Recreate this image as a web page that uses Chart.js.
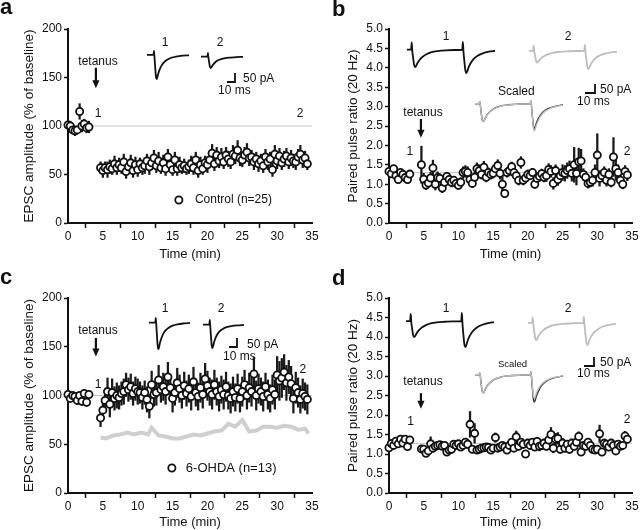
<!DOCTYPE html>
<html>
<head>
<meta charset="utf-8">
<script src="https://cdn.jsdelivr.net/npm/chart.js@4.4.0/dist/chart.umd.min.js"></script>
<style>
html,body{margin:0;padding:0;background:#fff;}
#stage{position:relative;width:640px;height:530px;overflow:hidden;font-family:"Liberation Sans",Arial,Helvetica,sans-serif;color:#111;}
#stage canvas{position:absolute;}
.lbl{position:absolute;white-space:nowrap;line-height:1;transform:translate(0,-50%);font-size:12px;}
.mid{transform:translate(-50%,-50%);}
.letter{position:absolute;font-weight:bold;font-size:22px;line-height:22px;}
</style>
</head>
<body>
<div id="stage">
  <canvas id="pa" width="320" height="265" style="left:0;top:0"></canvas>
  <canvas id="pb" width="320" height="265" style="left:320px;top:0"></canvas>
  <canvas id="pc" width="320" height="265" style="left:0;top:265px"></canvas>
  <canvas id="pd" width="320" height="265" style="left:320px;top:265px"></canvas>
  <div class="letter" style="left:0;top:-4px">a</div>
  <div class="letter" style="left:332px;top:-2px">b</div>
  <div class="letter" style="left:0;top:266px">c</div>
  <div class="letter" style="left:332px;top:267px">d</div>
</div>
<script>
// ---- time axis (min) ----
var timePre = [0, 0.33, 0.67, 1, 1.33, 1.67, 2, 2.33, 2.67, 3];
var timePost = [
  4.67, 5, 5.33, 5.67, 6, 6.33, 6.67, 7, 7.33, 7.67,
  8, 8.33, 8.67, 9, 9.33, 9.67, 10, 10.33, 10.67, 11,
  11.33, 11.67, 12, 12.33, 12.67, 13, 13.33, 13.67, 14, 14.33,
  14.67, 15, 15.33, 15.67, 16, 16.33, 16.67, 17, 17.33, 17.67,
  18, 18.33, 18.67, 19, 19.33, 19.67, 20, 20.33, 20.67, 21,
  21.33, 21.67, 22, 22.33, 22.67, 23, 23.33, 23.67, 24, 24.33,
  24.67, 25, 25.33, 25.67, 26, 26.33, 26.67, 27, 27.33, 27.67,
  28, 28.33, 28.67, 29, 29.33, 29.67, 30, 30.33, 30.67, 31,
  31.33, 31.67, 32, 32.33, 32.67, 33, 33.33, 33.67, 34, 34.33
];
var timeTicks = [0, 5, 10, 15, 20, 25, 30, 35];
var ampTicks = [0, 50, 100, 150, 200];
var ppTicks = [0, 0.5, 1, 1.5, 2, 2.5, 3, 3.5, 4, 4.5, 5];

// ---- a: EPSC amplitude, control ----
var ctrlAmpPre = [101, 100, 96, 95, 96, 115, 100, 102, 98, 99];
var ctrlAmpPreErr = [4, 5, 4, 5, 4, 8, 6, 5, 5, 6];
var ctrlAmpPost = [
  57, 54, 57, 55, 58, 56, 61, 57, 60, 57,
  63, 53, 58, 62, 54, 60, 55, 61, 57, 59,
  64, 58, 62, 67, 59, 64, 57, 62, 56, 68,
  60, 55, 65, 56, 60, 57, 59, 56, 58, 61,
  57, 65, 54, 60, 56, 62, 60, 65, 72, 61,
  70, 64, 68, 63, 70, 66, 63, 71, 69, 75,
  67, 65, 70, 73, 67, 68, 63, 66, 61, 64,
  59, 68, 63, 66, 55, 71, 64, 69, 62, 66,
  69, 63, 67, 64, 63, 68, 71, 65, 67, 61
];
var ctrlAmpPostErr = [
  6, 7, 6, 8, 7, 6, 8, 7, 7, 6,
  8, 7, 6, 8, 7, 8, 7, 6, 7, 8,
  7, 8, 7, 8, 7, 9, 6, 8, 7, 8,
  7, 6, 8, 7, 8, 6, 7, 6, 7, 8,
  7, 8, 7, 8, 6, 7, 8, 7, 9, 7,
  8, 7, 9, 7, 8, 8, 7, 9, 8, 10,
  8, 7, 8, 9, 8, 7, 8, 7, 8, 7,
  7, 8, 8, 7, 7, 9, 8, 8, 7, 8,
  8, 7, 8, 7, 8, 8, 9, 8, 7, 6
];

// ---- c: EPSC amplitude, 6-OHDA ----
var ohdaAmpPre = [101, 97, 100, 99, 95, 100, 94, 102, 93, 101];
var ohdaAmpPreErr = [3, 3, 3, 3, 4, 3, 4, 4, 4, 3];
var ohdaAmpPost = [
  77, 85, 95, 104, 91, 103, 97, 100, 98, 102,
  104, 111, 106, 109, 102, 107, 104, 103, 98, 103,
  96, 89, 111, 101, 103, 116, 106, 109, 104, 119,
  108, 97, 103, 113, 107, 100, 110, 102, 107, 99,
  114, 103, 99, 108, 101, 117, 110, 104, 101, 111,
  104, 99, 106, 101, 109, 100, 97, 104, 98, 107,
  97, 104, 111, 100, 108, 104, 122, 100, 107, 104,
  99, 109, 101, 97, 106, 101, 121, 115, 118, 124,
  113, 119, 112, 97, 108, 103, 96, 102, 99, 96
];
var ohdaAmpPostErr = [
  9, 11, 12, 14, 13, 14, 12, 13, 12, 12,
  13, 12, 12, 13, 12, 12, 13, 11, 12, 12,
  13, 12, 14, 12, 13, 15, 13, 14, 13, 15,
  13, 14, 13, 15, 14, 13, 14, 13, 14, 14,
  15, 14, 14, 15, 14, 16, 15, 14, 15, 15,
  14, 15, 14, 15, 15, 14, 15, 15, 14, 15,
  14, 15, 15, 14, 15, 15, 17, 15, 15, 14,
  15, 14, 15, 14, 15, 15, 19, 20, 20, 18,
  18, 17, 18, 15, 16, 15, 14, 15, 14, 15
];
// control mean redrawn as grey line in c
var ctrlMeanTime = [4.67, 5.5, 6.5, 7.5, 8.5, 9.5, 10.5, 11.5, 12, 13, 14, 15, 16, 17, 18, 19, 20, 21, 22, 23, 24, 25, 26, 27, 28, 29, 30, 31, 32, 33, 34, 34.5];
var ctrlMeanAmp = [57, 56, 59, 60, 62, 60, 62, 60, 67, 59, 58, 56, 56, 58, 60, 59, 61, 63, 64, 71, 68, 75, 63, 64, 68, 68, 67, 69, 68, 65, 66, 61];

// ---- b: paired pulse ratio, control ----
var ctrlPprPre = [1.33, 1.27, 1.40, 1.22, 1.12, 1.30, 1.25, 1.17, 1.12, 1.26];
var ctrlPprPreErr = [0.08, 0.1, 0.08, 0.1, 0.1, 0.08, 0.1, 0.1, 0.1, 0.08];
var ctrlPprPost = [
  1.50, 1.13, 0.98, 1.03, 1.16, 1.42, 1.00, 1.17, 1.15, 0.90,
  1.05, 1.20, 1.12, 1.05, 1.10, 1.02, 0.97, 1.05, 1.30, 1.33,
  1.30, 1.12, 1.02, 1.18, 1.40, 1.35, 1.25, 1.44, 1.18, 1.30,
  1.25, 1.28, 1.40, 1.48, 1.28, 1.00, 0.76, 1.30, 1.35, 1.45,
  1.30, 1.22, 1.10, 1.56, 1.10, 1.16, 1.25, 1.22, 1.30, 1.00,
  1.15, 1.20, 1.27, 1.18, 1.22, 1.38, 1.33, 1.02, 1.35, 1.12,
  1.22, 1.30, 1.28, 1.35, 1.40, 1.28, 1.50, 1.28, 1.58, 1.60,
  1.25, 1.18, 1.02, 1.05, 1.10, 1.30, 1.75, 1.15, 1.22, 1.30,
  1.10, 1.25, 1.05, 1.70, 1.40, 1.30, 1.10, 1.00, 1.33, 1.24
];
var ctrlPprPostErr = [
  0.48, 0.15, 0.12, 0.1, 0.15, 0.2, 0.15, 0.15, 0.12, 0.12,
  0.12, 0.1, 0.1, 0.12, 0.1, 0.1, 0.1, 0.12, 0.15, 0.15,
  0.15, 0.12, 0.1, 0.12, 0.15, 0.15, 0.12, 0.15, 0.12, 0.12,
  0.12, 0.12, 0.15, 0.15, 0.15, 0.2, 0.05, 0.12, 0.12, 0.12,
  0.12, 0.12, 0.12, 0.15, 0.12, 0.1, 0.12, 0.1, 0.1, 0.1,
  0.1, 0.12, 0.12, 0.12, 0.15, 0.15, 0.15, 0.15, 0.15, 0.15,
  0.15, 0.2, 0.2, 0.2, 0.2, 0.2, 0.45, 0.3, 0.35, 0.3,
  0.15, 0.15, 0.12, 0.12, 0.15, 0.2, 0.55, 0.2, 0.15, 0.15,
  0.15, 0.15, 0.12, 0.5, 0.3, 0.2, 0.15, 0.12, 0.15, 0.15
];

// ---- d: paired pulse ratio, 6-OHDA ----
var ohdaPprPre = [1.16, 1.27, 1.22, 1.33, 1.26, 1.38, 1.28, 1.38, 1.19, 1.36];
var ohdaPprPreErr = [0.06, 0.06, 0.06, 0.06, 0.06, 0.06, 0.06, 0.06, 0.06, 0.06];
var ohdaPprPost = [
  1.13, 1.12, 1.02, 1.08, 1.26, 1.15, 1.20, 1.22, 1.24, 1.20,
  1.22, 1.05, 1.10, 1.12, 1.25, 1.22, 1.26, 1.18, 1.22, 1.30,
  1.25, 1.76, 1.12, 1.53, 1.10, 1.12, 1.15, 1.16, 1.18, 1.17,
  1.10, 1.15, 1.42, 1.15, 1.18, 1.22, 1.18, 1.10, 1.22, 1.30,
  1.15, 1.44, 1.20, 1.30, 1.25, 1.00, 1.28, 1.22, 1.30, 1.18,
  1.32, 1.20, 1.22, 1.28, 1.20, 1.36, 1.50, 1.15, 1.38, 1.40,
  1.12, 1.28, 1.15, 1.25, 1.12, 1.28, 1.20, 1.30, 1.45, 1.05,
  1.22, 1.20, 1.30, 1.22, 1.12, 1.10, 1.12, 1.52, 1.05, 1.28,
  1.25, 1.18, 1.28, 1.22, 1.08, 1.25, 1.20, 1.22, 1.46, 1.38
];
var ohdaPprPostErr = [
  0.08, 0.08, 0.07, 0.08, 0.18, 0.1, 0.08, 0.08, 0.08, 0.08,
  0.08, 0.08, 0.08, 0.08, 0.08, 0.08, 0.08, 0.08, 0.08, 0.1,
  0.1, 0.33, 0.06, 0.25, 0.06, 0.06, 0.06, 0.06, 0.06, 0.06,
  0.06, 0.06, 0.12, 0.06, 0.06, 0.07, 0.07, 0.06, 0.07, 0.08,
  0.07, 0.15, 0.08, 0.1, 0.1, 0.04, 0.1, 0.08, 0.1, 0.08,
  0.1, 0.12, 0.1, 0.1, 0.1, 0.12, 0.18, 0.12, 0.15, 0.15,
  0.1, 0.12, 0.1, 0.1, 0.1, 0.1, 0.1, 0.1, 0.12, 0.08,
  0.1, 0.1, 0.1, 0.1, 0.1, 0.08, 0.08, 0.22, 0.08, 0.08,
  0.08, 0.08, 0.08, 0.08, 0.08, 0.08, 0.08, 0.08, 0.12, 0.1
];

// ---- example EPSC traces (ms, pA) ----
var epscMs = [0, 8, 8.6, 9.2, 10, 11, 12, 13, 14, 16, 18, 21, 25, 30, 36, 44, 52];
var ctrlTrace1 = [0, 0, 22, -8, -60, -118, -135, -122, -104, -78, -60, -42, -27, -16, -9, -4, -2];
var ctrlTrace2 = [0, 0, 20, -4, -28, -54, -62, -57, -49, -38, -29, -20, -13, -8, -5, -2, -1];
var ohdaTrace1 = [0, 0, 25, -10, -65, -128, -145, -130, -110, -82, -62, -43, -28, -17, -10, -5, -2];
var ohdaTrace2 = [0, 0, 25, -8, -58, -112, -128, -115, -97, -72, -54, -37, -24, -14, -8, -4, -2];

var ppMs = [0, 4, 4.6, 5.2, 6, 7, 8, 9, 10, 12, 15, 19, 24, 30, 38, 46, 54, 54.6, 55.2, 56, 57, 58, 59, 60, 62, 65, 69, 74, 80, 86];
var ctrlPP1 = [0, 0, 40, -8, -45, -85, -95, -88, -76, -58, -40, -25, -14, -8, -4, -2, -1, 42, -12, -60, -112, -128, -118, -100, -76, -52, -33, -20, -11, -6];
var ctrlPP2 = [0, 0, 30, -5, -30, -57, -65, -60, -52, -40, -28, -18, -10, -6, -3, -1, 0, 32, -8, -45, -88, -100, -92, -78, -60, -40, -26, -16, -9, -5];
var ctrlPPScaled1 = [0, 0, 12, -8, -48, -90, -100, -93, -80, -61, -42, -26, -15, -8, -4, -2, -1, 15, -12, -65, -122, -138, -127, -108, -82, -56, -36, -22, -12, -6];
var ctrlPPScaled2 = [0, 0, 12, -6, -46, -88, -100, -94, -82, -63, -44, -28, -16, -9, -5, -2, 0, 15, -10, -68, -135, -152, -140, -120, -92, -62, -40, -25, -14, -8];
var ohdaPP1 = [0, 0, 40, -8, -42, -80, -90, -84, -72, -55, -38, -24, -13, -7, -4, -2, -1, 45, -15, -70, -128, -145, -134, -114, -86, -58, -37, -22, -12, -6];
var ohdaPP2 = [0, 0, 30, -6, -45, -85, -95, -88, -75, -57, -40, -25, -14, -8, -4, -2, -1, 32, -10, -55, -108, -122, -113, -96, -73, -50, -32, -19, -11, -6];
var ohdaPPScaled1 = [0, 0, 10, -8, -50, -90, -100, -93, -80, -60, -42, -26, -15, -8, -4, -2, -1, 15, -12, -70, -132, -150, -138, -118, -90, -60, -38, -23, -13, -7];
var ohdaPPScaled2 = [0, 0, 10, -6, -47, -89, -100, -93, -79, -60, -42, -26, -15, -8, -4, -2, -1, 12, -10, -58, -114, -128, -119, -101, -77, -53, -34, -20, -12, -6];

var scaleBarMs = [0, 10, 10];
var scaleBarPA = [0, 0, 50];

var FONT = '"Liberation Sans", Arial, Helvetica, sans-serif';
var INK = '#111';
var stage = document.getElementById('stage');

// text, arrow and legend drawn in data units through the chart's scales
var notesPlugin = {
  id: 'notes',
  afterDatasetsDraw: function(chart, args, o){
    var ctx = chart.ctx, x = chart.scales.x, y = chart.scales.y;
    ctx.save();
    ctx.fillStyle = INK; ctx.strokeStyle = INK;
    ctx.textBaseline = 'middle';
    (o.texts || []).forEach(function(n){
      ctx.font = (n.size || 12) + 'px ' + FONT;
      ctx.textAlign = n.align || 'center';
      ctx.fillText(n.text, x.getPixelForValue(n.t), y.getPixelForValue(n.v));
    });
    if(o.arrow){
      var ax = x.getPixelForValue(o.arrow.t), y1 = y.getPixelForValue(o.arrow.from), y2 = y.getPixelForValue(o.arrow.to);
      ctx.lineWidth = 2.2;
      ctx.beginPath(); ctx.moveTo(ax, y1); ctx.lineTo(ax, y2 - 6); ctx.stroke();
      ctx.beginPath(); ctx.moveTo(ax - 3.6, y2 - 8); ctx.lineTo(ax + 3.6, y2 - 8); ctx.lineTo(ax, y2); ctx.closePath(); ctx.fill();
    }
    if(o.legend){
      var lx = x.getPixelForValue(o.legend.t), ly = y.getPixelForValue(o.legend.v);
      ctx.fillStyle = '#fff'; ctx.lineWidth = 1.8;
      ctx.beginPath(); ctx.arc(lx, ly, 3.6, 0, Math.PI * 2); ctx.fill(); ctx.stroke();
      ctx.fillStyle = INK; ctx.textAlign = 'left';
      ctx.font = (o.legend.size || 12) + 'px ' + FONT;
      ctx.fillText(o.legend.text, x.getPixelForValue(o.legend.tText), ly);
    }
    ctx.restore();
  }
};

function mainChart(id, p){
  var t = timePre.concat(timePost);
  var v = p.pre.concat(p.post);
  var e = p.preErr.concat(p.postErr);
  var sets = [
    {type: 'scatter', data: t.map(function(tt, i){ return {x: tt, y: v[i]}; }),
     pointRadius: 3.6, pointBackgroundColor: '#fff', pointBorderColor: INK, pointBorderWidth: 1.8,
     clip: false, order: 0},
    {type: 'bar', data: t.map(function(tt, i){ return {x: tt, y: [v[i] - e[i], v[i] + e[i]]}; }),
     backgroundColor: '#1a1a1a', barThickness: 1.6, grouped: false, clip: false, order: 1},
    {type: 'line', data: [{x: p.refFrom, y: p.refLevel}, {x: 35, y: p.refLevel}],
     borderColor: '#c6c6c6', borderWidth: 1, pointRadius: 0, order: 3}
  ];
  if(p.extra) sets.push(p.extra);
  new Chart(document.getElementById(id), {
    type: 'scatter',
    data: {datasets: sets},
    options: {
      responsive: false, animation: false, events: [],
      layout: {padding: {top: p.top, right: 8, left: 0, bottom: 0}},
      plugins: {legend: {display: false}, tooltip: {enabled: false}, notes: p.notes},
      scales: {
        x: {
          type: 'linear', min: 0, max: 35, offset: false,
          afterBuildTicks: function(s){ s.ticks = timeTicks.map(function(k){ return {value: k}; }); },
          ticks: {color: INK, font: {family: FONT, size: 12}, padding: 1, maxRotation: 0, autoSkip: false},
          grid: {drawOnChartArea: false, tickLength: 5, tickColor: INK, tickWidth: 1.5},
          border: {color: INK, width: 2},
          title: {display: true, text: 'Time (min)', color: INK, font: {family: FONT, size: 13}, padding: {top: 0, bottom: p.xTitlePad}},
          afterFit: function(s){ s.height = 265 - p.bottom; s.paddingLeft = 0; s.paddingRight = 0; }
        },
        y: {
          type: 'linear', min: p.yMin, max: p.yMax,
          afterBuildTicks: function(s){ s.ticks = p.yTicks.map(function(k){ return {value: k}; }); },
          ticks: {color: INK, font: {family: FONT, size: 12}, padding: 2,
                  callback: function(val){ return p.decimals ? val.toFixed(p.decimals) : val; }},
          grid: {drawOnChartArea: false, tickLength: 4, tickColor: INK, tickWidth: 1.5},
          border: {color: INK, width: 2},
          title: {display: true, text: p.yTitle, color: INK, font: {family: FONT, size: 13.5}, padding: {top: p.yTitlePad, bottom: 0}},
          afterFit: function(s){ s.width = p.left; s.paddingTop = 0; s.paddingBottom = 0; }
        }
      }
    },
    plugins: [notesPlugin]
  });
}

// small trace insets: x in ms, y in pA, sized by pixels per unit
function trace(left, base, pxMs, pxPA, xs, lines, lineWidth, smooth){
  var pad = 3, all = [];
  lines.forEach(function(l){ all = all.concat(l.y); });
  var yMax = Math.max.apply(null, all), yMin = Math.min.apply(null, all);
  var xMax = xs[xs.length - 1];
  var cv = document.createElement('canvas');
  cv.width = Math.round(xMax * pxMs) + 2 * pad;
  cv.height = Math.round((yMax - yMin) * pxPA) + 2 * pad;
  cv.style.left = (left - pad) + 'px';
  cv.style.top = Math.round(base - yMax * pxPA - pad) + 'px';
  stage.appendChild(cv);
  new Chart(cv, {
    type: 'line',
    data: {datasets: lines.map(function(l){
      return {data: xs.map(function(t, i){ return {x: t, y: l.y[i]}; }),
              borderColor: l.color, borderWidth: lineWidth, pointRadius: 0,
              cubicInterpolationMode: smooth ? 'monotone' : 'default', tension: 0, clip: false};
    })},
    options: {
      responsive: false, animation: false, events: [],
      layout: {padding: pad},
      plugins: {legend: {display: false}, tooltip: {enabled: false}},
      scales: {x: {type: 'linear', min: 0, max: xMax, display: false},
               y: {min: yMin, max: yMax, display: false}}
    }
  });
}

function label(text, x, y, size, centered){
  var d = document.createElement('div');
  d.className = 'lbl' + (centered ? ' mid' : '');
  d.textContent = text;
  d.style.left = x + 'px'; d.style.top = y + 'px';
  if(size) d.style.fontSize = size + 'px';
  stage.appendChild(d);
}

var GREY = '#bdbdbd';

// ---- panel a ----
mainChart('pa', {
  pre: ctrlAmpPre, preErr: ctrlAmpPreErr, post: ctrlAmpPost, postErr: ctrlAmpPostErr,
  yMin: 0, yMax: 200, yTicks: ampTicks, decimals: 0, refLevel: 100, refFrom: 3.4,
  yTitle: 'EPSC amplitude (% of baseline)',
  top: 29, bottom: 223, left: 68, xTitlePad: 3, yTitlePad: 21,
  notes: {
    texts: [{text: 'tetanus', t: 4.3, v: 166}, {text: '1', t: 4.3, v: 113}, {text: '2', t: 33.3, v: 113}],
    arrow: {t: 4.0, from: 160, to: 139},
    legend: {t: 15.9, v: 23.7, tText: 18.2, text: 'Control (n=25)', size: 12}
  }
});
trace(147, 55, 0.8, 0.18, epscMs, [{y: ctrlTrace1, color: INK}], 1.8, true);
trace(201, 57, 0.8, 0.18, epscMs, [{y: ctrlTrace2, color: INK}], 1.8, true);
trace(227, 82, 0.8, 0.18, scaleBarMs, [{y: scaleBarPA, color: INK}], 1.8, false);
label('1', 165, 42, 12, true); label('2', 220, 42, 12, true);
label('50 pA', 243, 78); label('10 ms', 218, 90);

// ---- panel b ----
mainChart('pb', {
  pre: ctrlPprPre, preErr: ctrlPprPreErr, post: ctrlPprPost, postErr: ctrlPprPostErr,
  yMin: 0, yMax: 5, yTicks: ppTicks, decimals: 1, refLevel: 1.3, refFrom: 3.4,
  yTitle: 'Paired pulse ratio (20 Hz)',
  top: 29, bottom: 223, left: 69, xTitlePad: 3, yTitlePad: 25,
  notes: {
    texts: [{text: 'tetanus', t: 4.9, v: 2.84}, {text: '1', t: 3.0, v: 1.83}, {text: '2', t: 34.3, v: 1.83}],
    arrow: {t: 4.6, from: 2.68, to: 2.2}
  }
});
trace(407, 50, 1.02, 0.18, ppMs, [{y: ctrlPP1, color: INK}], 1.8, true);
trace(529, 51, 1.02, 0.18, ppMs, [{y: ctrlPP2, color: GREY}], 1.8, true);
trace(475, 104, 1.02, 0.18, ppMs, [{y: ctrlPPScaled2, color: GREY}, {y: ctrlPPScaled1, color: '#333'}], 1.4, true);
trace(585, 93, 1.02, 0.18, scaleBarMs, [{y: scaleBarPA, color: INK}], 1.8, false);
label('1', 446, 36, 12, true); label('2', 568, 36, 12, true);
label('Scaled', 498, 91); label('50 pA', 600, 89); label('10 ms', 577, 101);

// ---- panel c ----
mainChart('pc', {
  pre: ohdaAmpPre, preErr: ohdaAmpPreErr, post: ohdaAmpPost, postErr: ohdaAmpPostErr,
  yMin: 0, yMax: 200, yTicks: ampTicks, decimals: 0, refLevel: 100, refFrom: 3.4,
  yTitle: 'EPSC amplitude (% of baseline)',
  top: 33, bottom: 228, left: 68, xTitlePad: 0, yTitlePad: 21,
  extra: {type: 'line', data: ctrlMeanTime.map(function(t, i){ return {x: t, y: ctrlMeanAmp[i]}; }),
          borderColor: '#cfcfcf', borderWidth: 4, pointRadius: 0, order: 2},
  notes: {
    texts: [{text: 'tetanus', t: 4.3, v: 166}, {text: '1', t: 4.3, v: 111}, {text: '2', t: 33.7, v: 126}],
    arrow: {t: 4.0, from: 159, to: 140},
    legend: {t: 14.9, v: 25.6, tText: 16.9, text: '6-OHDA (n=13)', size: 13}
  }
});
trace(149, 322, 0.78, 0.18, epscMs, [{y: ohdaTrace1, color: INK}], 1.8, true);
trace(203, 324, 0.78, 0.18, epscMs, [{y: ohdaTrace2, color: INK}], 1.8, true);
trace(229, 347, 0.8, 0.18, scaleBarMs, [{y: scaleBarPA, color: INK}], 1.8, false);
label('1', 165, 308, 12, true); label('2', 221, 308, 12, true);
label('50 pA', 247, 344); label('10 ms', 223, 356);

// ---- panel d ----
mainChart('pd', {
  pre: ohdaPprPre, preErr: ohdaPprPreErr, post: ohdaPprPost, postErr: ohdaPprPostErr,
  yMin: 0, yMax: 5, yTicks: ppTicks, decimals: 1, refLevel: 1.27, refFrom: 3.4,
  yTitle: 'Paired pulse ratio (20 Hz)',
  top: 33, bottom: 228, left: 69, xTitlePad: 0, yTitlePad: 25,
  notes: {
    texts: [{text: 'tetanus', t: 4.9, v: 2.85}, {text: '1', t: 3.1, v: 1.82}, {text: '2', t: 34.3, v: 1.87}],
    arrow: {t: 4.6, from: 2.56, to: 2.16}
  }
});
trace(406, 321, 1.02, 0.18, ppMs, [{y: ohdaPP1, color: INK}], 1.8, true);
trace(528, 323, 1.02, 0.18, ppMs, [{y: ohdaPP2, color: GREY}], 1.8, true);
trace(475, 375, 1.02, 0.18, ppMs, [{y: ohdaPPScaled2, color: GREY}, {y: ohdaPPScaled1, color: '#333'}], 1.4, true);
trace(584, 366, 1.02, 0.18, scaleBarMs, [{y: scaleBarPA, color: INK}], 1.8, false);
label('1', 446, 308, 12, true); label('2', 568, 308, 12, true);
label('Scaled', 498, 364, 9.5); label('50 pA', 600, 362); label('10 ms', 577, 373);
</script>
</body>
</html>
